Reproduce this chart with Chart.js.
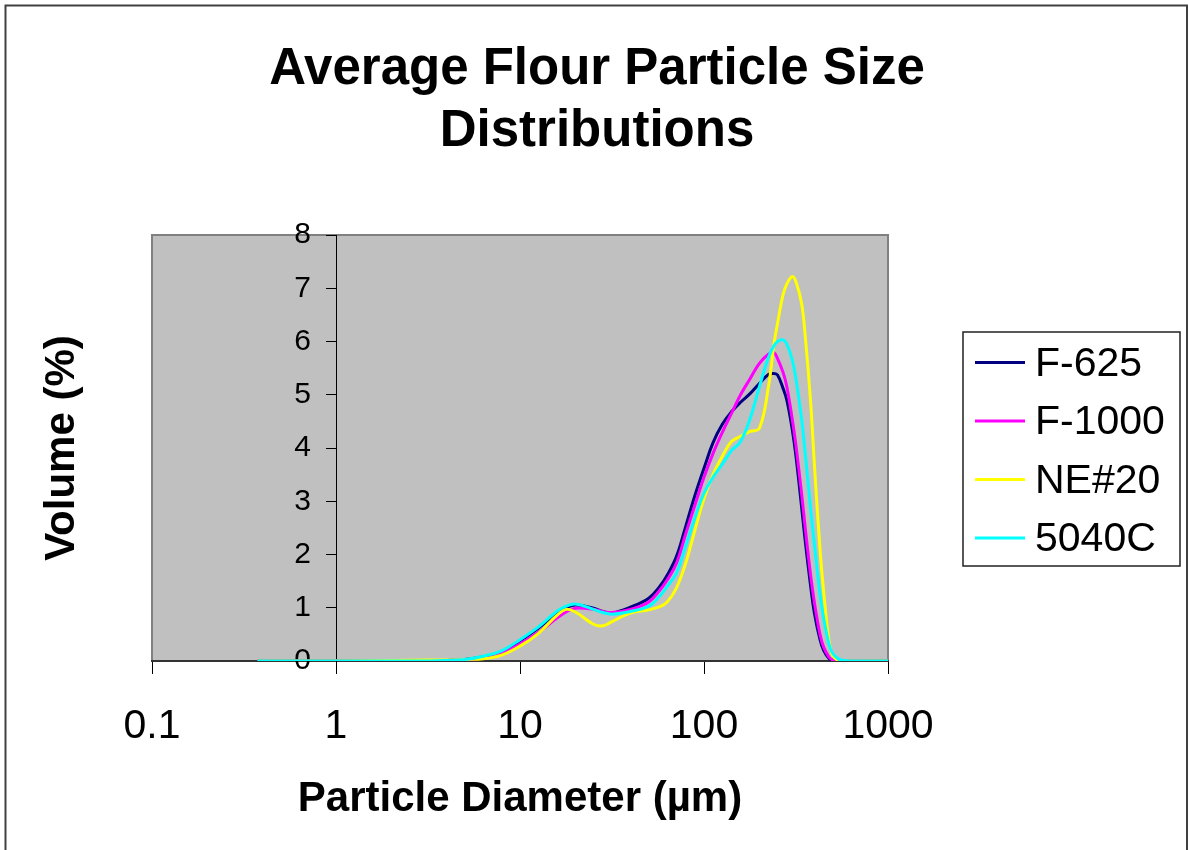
<!DOCTYPE html>
<html>
<head>
<meta charset="utf-8">
<title>Average Flour Particle Size Distributions</title>
<script src="https://cdn.jsdelivr.net/npm/chart.js@4.4.0/dist/chart.umd.min.js"></script>
<style>
  html, body { margin: 0; padding: 0; background: #fff; }
  canvas { display: block; }
</style>
</head>
<body>
<canvas id="psdChart" width="1189" height="850"></canvas>
<script>
// particle diameters (um) at which the curves were read
const diameters = [0.375, 1, 2, 3.16, 3.98, 5.01, 6.31, 7.94, 10, 12.6, 15.8, 17.8, 20, 25.1, 28.2, 31.6,
  39.8, 50.1, 57.5, 63.1, 70.8, 79.4, 89.1, 100, 112, 126, 141, 158, 178, 200, 224, 240, 251, 269, 282,
  302, 316, 339, 355, 380, 398, 427, 447, 479, 501, 537, 575, 631, 1000];

// volume (%)
const f625 = [0, 0, 0, 0, 0.01, 0.03, 0.08, 0.17, 0.38, 0.62, 0.90, 1.00, 1.05, 0.99, 0.93, 0.90,
  1.01, 1.18, 1.40, 1.61, 1.96, 2.52, 3.10, 3.62, 4.10, 4.45, 4.68, 4.86, 5.02, 5.21, 5.38, 5.40, 5.37, 5.12, 4.90,
  4.34, 3.85, 2.90, 2.25, 1.40, 0.90, 0.40, 0.20, 0.04, 0.01, 0, 0, 0, 0];
const f1000 = [0, 0, 0, 0, 0.01, 0.02, 0.06, 0.14, 0.32, 0.54, 0.80, 0.92, 0.99, 0.97, 0.93, 0.91,
  0.97, 1.11, 1.33, 1.52, 1.83, 2.38, 2.92, 3.45, 3.90, 4.30, 4.65, 5.00, 5.30, 5.59, 5.76, 5.79, 5.68, 5.42, 5.15,
  4.53, 4.05, 3.15, 2.50, 1.60, 1.10, 0.50, 0.26, 0.07, 0.02, 0, 0, 0, 0];
const ne20 = [0, 0, 0.01, 0.02, 0.02, 0.03, 0.04, 0.11, 0.28, 0.52, 0.85, 0.97, 0.92, 0.69, 0.66, 0.74,
  0.90, 0.96, 1.02, 1.11, 1.37, 1.83, 2.45, 3.05, 3.50, 3.85, 4.12, 4.22, 4.31, 4.37, 5.15, 5.95, 6.34, 6.88, 7.08,
  7.22, 7.12, 6.72, 6.10, 4.85, 3.70, 2.10, 1.30, 0.35, 0.10, 0.01, 0, 0, 0];
const c5040 = [0, 0, 0, 0, 0.01, 0.03, 0.09, 0.19, 0.40, 0.64, 0.93, 1.03, 1.07, 0.97, 0.91, 0.88,
  0.93, 1.03, 1.22, 1.40, 1.65, 2.15, 2.68, 3.15, 3.45, 3.70, 3.95, 4.12, 4.55, 5.15, 5.70, 5.92, 6.00, 6.03, 5.95,
  5.65, 5.30, 4.55, 3.90, 2.85, 2.20, 1.25, 0.80, 0.30, 0.14, 0.04, 0.01, 0, 0];

const seriesNames = ['F-625', 'F-1000', 'NE#20', '5040C'];
const seriesValues = [f625, f1000, ne20, c5040];
const seriesColors = ['#000080', '#FF00FF', '#FFFF00', '#00FFFF'];

const xTicks = [0.1, 1, 10, 100, 1000];
const yMin = 0, yMax = 8;

const FONT = "'Liberation Sans', Arial, sans-serif";

// background, frame, title, y title and boxed legend
const decorations = {
    id: 'decorations',
    beforeDraw(chart) {
        const { ctx, chartArea: a } = chart;
        // y axis sits at x = 1, so its labels are placed right on the axis line: pull them left of the ticks
        const yScale = chart.scales.y;
        yScale.getLabelItems(a).forEach(item => {
            if (!item._shifted) {
                item.options.translation[0] -= 25;
                item._shifted = true;
            }
        });
        ctx.save();
        ctx.fillStyle = '#fff';
        ctx.fillRect(0, 0, chart.width, chart.height);
        ctx.fillStyle = '#C0C0C0';
        ctx.fillRect(a.left, a.top, a.right - a.left, a.bottom - a.top);
        ctx.strokeStyle = '#808080';
        ctx.lineWidth = 2;
        ctx.beginPath();
        ctx.moveTo(a.left, a.bottom);
        ctx.lineTo(a.left, a.top);
        ctx.lineTo(a.right, a.top);
        ctx.lineTo(a.right, a.bottom);
        ctx.stroke();
        ctx.restore();
    },
    afterDraw(chart) {
        const ctx = chart.ctx;
        ctx.save();
        ctx.fillStyle = '#000';
        ctx.textAlign = 'center';
        ctx.textBaseline = 'alphabetic';
        ctx.font = 'bold 51px ' + FONT;
        ctx.fillText('Average Flour Particle Size', 597, 84);
        ctx.fillText('Distributions', 597, 146);

        // y axis title
        ctx.save();
        ctx.translate(62, 448);
        ctx.rotate(-Math.PI / 2);
        ctx.font = 'bold 42px ' + FONT;
        ctx.textBaseline = 'middle';
        ctx.fillText('Volume (%)', 0, 0);
        ctx.restore();

        // legend
        ctx.strokeStyle = '#222';
        ctx.lineWidth = 1.5;
        ctx.strokeRect(963, 332, 217, 234);
        ctx.font = '41px ' + FONT;
        ctx.textAlign = 'left';
        ctx.textBaseline = 'middle';
        chart.data.datasets.forEach((ds, i) => {
            const y = 362.5 + i * 58.5;
            ctx.strokeStyle = ds.borderColor;
            ctx.lineWidth = 3;
            ctx.beginPath();
            ctx.moveTo(975, y);
            ctx.lineTo(1025, y);
            ctx.stroke();
            ctx.fillStyle = '#000';
            ctx.fillText(ds.label, 1035, y + 2);
        });

        // outer frame
        ctx.strokeStyle = '#404040';
        ctx.lineWidth = 2;
        ctx.strokeRect(5.5, 5.5, 1181.5, 860);
        ctx.restore();
    }
};

new Chart(document.getElementById('psdChart'), {
    type: 'line',
    data: {
        datasets: seriesNames.map((name, i) => ({
            label: name,
            data: diameters.map((d, j) => ({ x: d, y: seriesValues[i][j] })),
            borderColor: seriesColors[i],
            borderWidth: 3,
            pointRadius: 0,
            fill: false,
            tension: 0.4,
            order: seriesNames.length - i
        }))
    },
    options: {
        responsive: false,
        animation: false,
        layout: { padding: { left: 152, right: 301, top: 235, bottom: 0 } },
        plugins: {
            legend: { display: false },
            title: { display: false },
            tooltip: { enabled: false }
        },
        scales: {
            x: {
                type: 'logarithmic',
                position: 'bottom',
                min: xTicks[0],
                max: xTicks[xTicks.length - 1],
                afterBuildTicks: scale => { scale.ticks = xTicks.map(v => ({ value: v })); },
                afterFit: scale => { scale.height = 189; },
                ticks: {
                    autoSkip: false,
                    maxRotation: 0,
                    color: '#000',
                    padding: 28,
                    font: { family: FONT, size: 41 },
                    callback: v => String(v)
                },
                grid: { drawOnChartArea: false, tickLength: 13, tickColor: '#000', tickWidth: 1 },
                border: { color: '#333', width: 2 },
                title: {
                    display: true,
                    text: 'Particle Diameter (µm)',
                    color: '#000',
                    font: { family: FONT, size: 42, weight: 'bold' },
                    padding: { top: 0, bottom: 25 }
                }
            },
            y: {
                type: 'linear',
                position: { x: 1 },
                min: yMin,
                max: yMax,
                ticks: { stepSize: 1, color: '#000', font: { family: FONT, size: 30 } },
                grid: { drawOnChartArea: false, tickLength: 10, tickColor: '#000', tickWidth: 1 },
                border: { color: '#000', width: 1 }
            }
        }
    },
    plugins: [decorations]
});
</script>
</body>
</html>
